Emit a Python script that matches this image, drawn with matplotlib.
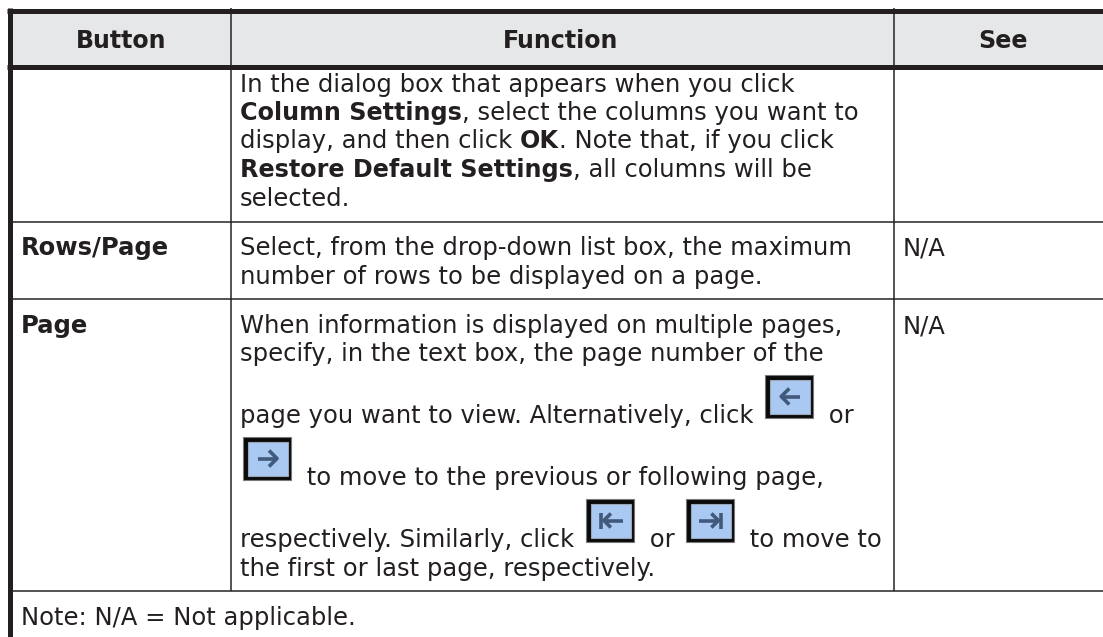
import matplotlib
matplotlib.use("Agg")
import matplotlib.pyplot as plt
from matplotlib.patches import Rectangle

WIDTH, HEIGHT = 1103, 637
DARK = "#231f20"
FONT_PX = 24.2
ICON_W, ICON_H = 48, 43

headers = ["Button", "Function", "See"]
row_names = ["Rows/Page", "Page"]
see_values = ["N/A", "N/A"]
note_text = "Note: N/A = Not applicable."

# each line is a list of (text, bold) runs, "icon:" names stand for the small buttons
first_row_lines = [
    [("In the dialog box that appears when you click", False)],
    [("Column Settings", True), (", select the columns you want to", False)],
    [("display, and then click ", False), ("OK", True), (". Note that, if you click", False)],
    [("Restore Default Settings", True), (", all columns will be", False)],
    [("selected.", False)],
]
rows_page_lines = [
    [("Select, from the drop-down list box, the maximum", False)],
    [("number of rows to be displayed on a page.", False)],
]
page_lines = [
    [("When information is displayed on multiple pages,", False)],
    [("specify, in the text box, the page number of the", False)],
    [("page you want to view. Alternatively, click ", False), ("icon:prev", False), (" or", False)],
    [("icon:next", False), (" to move to the previous or following page,", False)],
    [("respectively. Similarly, click ", False), ("icon:first", False), (" or ", False),
     ("icon:last", False), (" to move to", False)],
    [("the first or last page, respectively.", False)],
]

first_row_base = [92, 120, 148, 177, 206]
rows_page_base = [255, 284]
page_base = [333, 361, 423, 485, 547, 576]

plt.rcParams["font.family"] = "DejaVu Sans"
fig = plt.figure(figsize=(WIDTH / 100, HEIGHT / 100), dpi=100)
ax = fig.add_axes([0, 0, 1, 1])
ax.set_xlim(0, WIDTH)
ax.set_ylim(HEIGHT, 0)
ax.axis("off")

size = FONT_PX * 72 / 100


def hline(y, x0, x1, lw):
    ax.plot([x0, x1], [y, y], color=DARK, lw=lw * 0.72, solid_capstyle="butt")


def vline(x, y0, y1, lw):
    ax.plot([x, x], [y0, y1], color=DARK, lw=lw * 0.72, solid_capstyle="butt")


def draw_icon(x, baseline, name):
    # blue button: black frame, heavier on top and left, greyer on the right
    top = baseline - 5 - ICON_H
    ax.add_patch(Rectangle((x, top), ICON_W, ICON_H, fc="#0a0a0a", ec="#77797c", lw=0.8))
    ax.add_patch(Rectangle((x + 5, top + 5), ICON_W - 8, ICON_H - 9, fc="#a9c8f2", ec="#9aa6b6", lw=0.8))
    cx, cy = x + ICON_W / 2 + 1, top + ICON_H / 2
    sign = -1 if name in ("prev", "first") else 1
    arrow = {"color": "#41597a", "lw": 2.6, "solid_capstyle": "butt"}
    if name in ("first", "last"):
        ax.plot([cx + sign * 10, cx + sign * 10], [cy - 8, cy + 8], **arrow)
        ax.plot([cx - sign * 12, cx + sign * 6], [cy, cy], **arrow)
        ax.plot([cx, cx + sign * 7, cx], [cy - 7, cy, cy + 7], **arrow)
    else:
        ax.plot([cx - sign * 10, cx + sign * 9], [cy, cy], **arrow)
        ax.plot([cx + sign * 1, cx + sign * 9, cx + sign * 1], [cy - 8, cy, cy + 8], **arrow)


def draw_line(runs, x, baseline):
    renderer = fig.canvas.get_renderer()
    for i, (text, bold) in enumerate(runs):
        if text.startswith("icon:"):
            left = 3 if i == 0 else 4
            draw_icon(x + left, baseline, text[5:])
            x += left + ICON_W + 8
            continue
        weight = "bold" if bold else "normal"
        fs = size * 0.985 if bold else size
        ax.text(x, baseline, text, fontsize=fs, color=DARK, va="baseline", ha="left", fontweight=weight)
        # nbsp so the trailing spaces count in the measured width
        probe = ax.text(0, 0, text.replace(" ", "\u00a0"), fontsize=fs, fontweight=weight)
        x += probe.get_window_extent(renderer).width
        probe.remove()


ax.add_patch(Rectangle((10, 10), WIDTH - 10, 56, fc="#e6e7e8", ec="none"))

for label, cx in zip(headers, [121, 561, 1003]):
    ax.text(cx, 48, label, ha="center", va="baseline", fontsize=size * 0.98,
            fontweight="bold", color=DARK)

for lines, bases in zip([first_row_lines, rows_page_lines, page_lines],
                        [first_row_base, rows_page_base, page_base]):
    for runs, base in zip(lines, bases):
        draw_line(runs, 240, base)

for name, base in zip(row_names, [rows_page_base[0], page_base[0]]):
    ax.text(21, base, name, fontsize=size, fontweight="bold", color=DARK, va="baseline")
for val, base in zip(see_values, [rows_page_base[0], page_base[0]]):
    ax.text(903, base, val, fontsize=size, color=DARK, va="baseline")
ax.text(21, 625, note_text, fontsize=size, color=DARK, va="baseline")

hline(10.5, 7, WIDTH, 5)
hline(66.5, 7, WIDTH, 5)
hline(222, 12, WIDTH, 1.5)
hline(299, 12, WIDTH, 1.5)
hline(591, 12, WIDTH, 1.5)
vline(9.5, 8, HEIGHT, 5)
vline(230.5, 8, 591, 1.5)
vline(893.5, 8, 591, 1.5)

fig.savefig("out.png", dpi=100)
plt.close(fig)
